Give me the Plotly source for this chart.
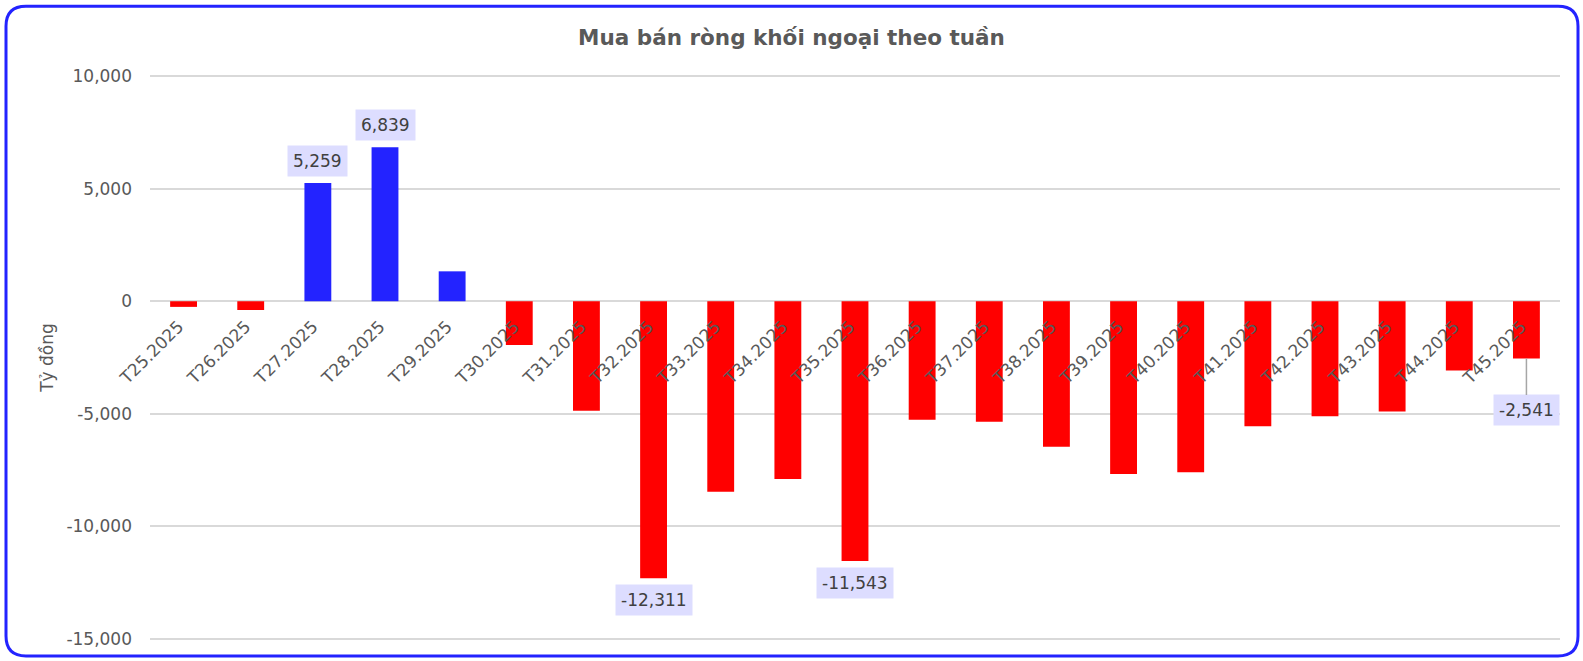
import plotly.graph_objects as go

# ---- data ----
weeks = ["T25.2025", "T26.2025", "T27.2025", "T28.2025", "T29.2025", "T30.2025", "T31.2025",
         "T32.2025", "T33.2025", "T34.2025", "T35.2025", "T36.2025", "T37.2025", "T38.2025",
         "T39.2025", "T40.2025", "T41.2025", "T42.2025", "T43.2025", "T44.2025", "T45.2025"]
net_values = [-250, -390, 5259, 6839, 1330, -1940, -4870, -12311, -8470, -7900, -11543,
              -5270, -5360, -6470, -7680, -7600, -5550, -5110, -4900, -3080, -2541]
labeled_weeks = ["T27.2025", "T28.2025", "T32.2025", "T35.2025"]
leader_week = "T45.2025"
y_tickvals = [-15000, -10000, -5000, 0, 5000, 10000]
y_ticktext = ["-15,000", "-10,000", "-5,000", "0", "5,000", "10,000"]

title_text = "Mua bán ròng khối ngoại theo tuần"
y_title = "Tỷ đồng"

BLUE = "#2323FF"
RED = "#FF0000"
LABEL_BG = "#DDDDFF"
TXT = "#595959"
LBL_TXT = "#404040"
FONT = "DejaVu Sans, Verdana, sans-serif"

W, H = 1583, 661
L, R, T, B = 150, 1560, 74, 643
Y_RANGE = [-15100, 10100]


def px(x):
    return (x - L) / (R - L)


def py(y):
    return (B - y) / (B - T)


def fmt(v):
    return f"{v:,}"


colors = [BLUE if v >= 0 else RED for v in net_values]

fig = go.Figure()
fig.add_trace(go.Bar(x=weeks, y=net_values, marker=dict(color=colors, line=dict(width=0)),
                     hoverinfo="x+y"))

annotations = []
for wk, v in zip(weeks, net_values):
    if wk in labeled_weeks:
        annotations.append(dict(
            x=wk, y=v, xref="x", yref="y", text=fmt(v), showarrow=False,
            yanchor="bottom" if v >= 0 else "top", yshift=6 if v >= 0 else -6,
            bgcolor=LABEL_BG, borderpad=5,
            font=dict(family=FONT, size=17, color=LBL_TXT)))
    elif wk == leader_week:
        annotations.append(dict(
            x=wk, y=v, xref="x", yref="y", text=fmt(v), showarrow=True,
            arrowhead=0, arrowwidth=1.5, arrowcolor="#A6A6A6", ax=0, ay=52,
            bgcolor=LABEL_BG, borderpad=5,
            font=dict(family=FONT, size=17, color=LBL_TXT)))

# rounded border
x0, x1, y0, y1, r = 6, 1578, 6, 658, 20
path = (f"M {px(x0 + r)} {py(y0)} L {px(x1 - r)} {py(y0)} "
        f"Q {px(x1)} {py(y0)} {px(x1)} {py(y0 + r)} "
        f"L {px(x1)} {py(y1 - r)} Q {px(x1)} {py(y1)} {px(x1 - r)} {py(y1)} "
        f"L {px(x0 + r)} {py(y1)} Q {px(x0)} {py(y1)} {px(x0)} {py(y1 - r)} "
        f"L {px(x0)} {py(y0 + r)} Q {px(x0)} {py(y0)} {px(x0 + r)} {py(y0)} Z")

zero_frac = (0 - Y_RANGE[0]) / (Y_RANGE[1] - Y_RANGE[0])

fig.update_layout(
    width=W, height=H,
    margin=dict(l=L, r=W - R, t=T, b=H - B),
    paper_bgcolor="white", plot_bgcolor="white",
    showlegend=False, bargap=0.6,
    title=dict(text=f"<b>{title_text}</b>", x=0.5, xref="container", xanchor="center",
               y=1 - 37 / H, yref="container", yanchor="middle",
               font=dict(family=FONT, size=21.5, color=TXT)),
    font=dict(family=FONT, size=17, color=TXT),
    xaxis=dict(type="category", anchor="free", position=zero_frac, showgrid=False,
               showline=False, zeroline=False, tickangle=-45, ticks="",
               ticklabelstandoff=11, ticklabelshift=-5,
               tickfont=dict(family=FONT, size=17, color=TXT)),
    yaxis=dict(range=Y_RANGE, tickvals=y_tickvals, ticktext=y_ticktext,
               showgrid=True, gridcolor="#D9D9D9", gridwidth=1.5,
               zeroline=True, zerolinecolor="#D9D9D9", zerolinewidth=1.5,
               showline=False, ticks="", ticklabelstandoff=17,
               tickfont=dict(family=FONT, size=17, color=TXT),
               title=dict(text=y_title, standoff=8, font=dict(family=FONT, size=17, color=TXT))),
    annotations=annotations,
    shapes=[dict(type="path", xref="paper", yref="paper", path=path,
                 line=dict(color="#2323FF", width=3), layer="above")],
)

fig.write_html("out.html", config={"displayModeBar": False},
               post_script="document.body.style.margin='0';")
